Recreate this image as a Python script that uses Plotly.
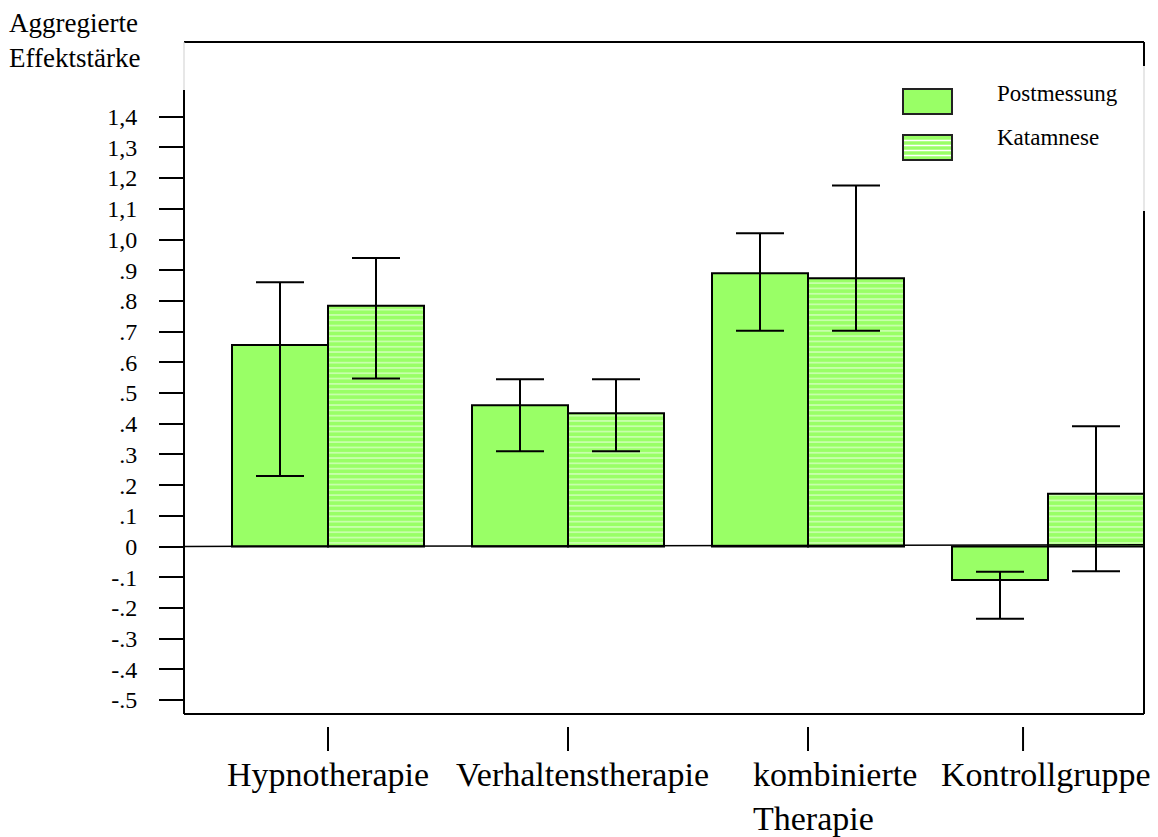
import plotly.graph_objects as go

# ---------------- data ----------------
categories = ["Hypnotherapie", "Verhaltenstherapie", "kombinierte<br>Therapie", "Kontrollgruppe"]
series_names = ["Postmessung", "Katamnese"]

post_values = [0.656, 0.46, 0.89, -0.109]
post_upper = [0.861, 0.545, 1.02, -0.082]
post_lower = [0.23, 0.31, 0.703, -0.235]

kat_values = [0.784, 0.434, 0.874, 0.172]
kat_upper = [0.94, 0.545, 1.176, 0.392]
kat_lower = [0.547, 0.31, 0.703, -0.081]

tick_values = [-0.5, -0.4, -0.3, -0.2, -0.1, 0, 0.1, 0.2, 0.3, 0.4, 0.5, 0.6, 0.7, 0.8, 0.9,
               1.0, 1.1, 1.2, 1.3, 1.4]
tick_labels = ["-.5", "-.4", "-.3", "-.2", "-.1", "0", ".1", ".2", ".3", ".4", ".5", ".6", ".7",
               ".8", ".9", "1,0", "1,1", "1,2", "1,3", "1,4"]

# ---------------- style ----------------
GREEN = "#99FF66"
FONT = "Liberation Serif"
W, H = 1158, 837
L, R, T, B = 184, 14, 42, 123
PW, PH = W - L - R, H - T - B


def px(x):
    return (x - L) / PW


def py(y):
    return (H - B - y) / PH


xs = list(range(len(categories)))

fig = go.Figure()
fig.add_trace(go.Bar(
    name=series_names[0], x=xs, y=post_values,
    marker=dict(color=GREEN, line=dict(color="black", width=2)),
    error_y=dict(type="data", symmetric=False,
                 array=[u - v for u, v in zip(post_upper, post_values)],
                 arrayminus=[v - l for v, l in zip(post_values, post_lower)],
                 color="black", thickness=2, width=24),
    showlegend=False,
))
fig.add_trace(go.Bar(
    name=series_names[1], x=xs, y=kat_values,
    marker=dict(color=GREEN, line=dict(color="black", width=2),
                pattern=dict(shape="-", fillmode="overlay", fgcolor="white",
                             size=5.3, solidity=0.3)),
    error_y=dict(type="data", symmetric=False,
                 array=[u - v for u, v in zip(kat_upper, kat_values)],
                 arrayminus=[v - l for v, l in zip(kat_values, kat_lower)],
                 color="black", thickness=2, width=24),
    showlegend=False,
))

shapes = []
blk = dict(color="black", width=2)
gry = dict(color="#cfcfcf", width=1)


def seg(x0, y0, x1, y1, line):
    shapes.append(dict(type="line", xref="paper", yref="paper",
                       x0=px(x0), y0=py(y0), x1=px(x1), y1=py(y1), line=line))


# frame
seg(184, 42, 1144, 42, blk)
seg(184, 42, 184, 90, gry)
seg(184, 90, 184, 714, blk)
seg(184, 714, 1144, 714, blk)
seg(1144, 42, 1144, 66, blk)
seg(1144, 66, 1144, 211, gry)
seg(1144, 211, 1144, 714, blk)

# zero line (slightly tilted as in the original)
shapes.append(dict(type="line", xref="paper", yref="y", x0=0, x1=1, y0=0, y1=0.006,
                   line=dict(color="black", width=1.5)))

# category tick marks below the frame
for xv in [0, 1, 2, 2.896]:
    shapes.append(dict(type="line", xref="x", yref="paper", x0=xv, x1=xv,
                       y0=py(727), y1=py(751), line=dict(color="black", width=2)))

# legend boxes
shapes.append(dict(type="rect", xref="paper", yref="paper", x0=px(903), x1=px(952),
                   y0=py(114), y1=py(89), fillcolor=GREEN, line=dict(color="#222", width=2)))
shapes.append(dict(type="rect", xref="paper", yref="paper", x0=px(903), x1=px(952),
                   y0=py(160), y1=py(135), fillcolor=GREEN, line=dict(color="#222", width=2)))
for yy in [140.5, 145.5, 150.5, 155.5]:
    seg(904, yy, 951, yy, dict(color="white", width=1.3))

annotations = [
    dict(text="Aggregierte<br>Effektstärke", xref="paper", yref="paper", x=px(7), y=py(6),
         xanchor="left", yanchor="top", align="left", showarrow=False,
         font=dict(family=FONT, size=27, color="black")),
    dict(text=series_names[0], xref="paper", yref="paper", x=px(995), y=py(94),
         xanchor="left", yanchor="middle", showarrow=False,
         font=dict(family=FONT, size=23, color="black")),
    dict(text=series_names[1], xref="paper", yref="paper", x=px(995), y=py(137),
         xanchor="left", yanchor="middle", showarrow=False,
         font=dict(family=FONT, size=23, color="black")),
]

label_x = [0, 1.06, 1.7625, 2.99]
label_anchor = ["center", "center", "left", "center"]
for cat, lx, anc in zip(categories, label_x, label_anchor):
    annotations.append(dict(text=cat, xref="x", yref="paper", x=lx, y=py(754),
                            xanchor=anc, yanchor="top", align="left", showarrow=False,
                            font=dict(family=FONT, size=34, color="black")))

fig.update_layout(
    width=W, height=H, autosize=False,
    margin=dict(l=L, r=R, t=T, b=B, pad=0),
    paper_bgcolor="white", plot_bgcolor="white",
    barmode="group", bargap=0.2, bargroupgap=0,
    shapes=shapes, annotations=annotations,
    font=dict(family=FONT, color="black"),
    xaxis=dict(range=[-0.6, 3.4], showticklabels=False, ticks="", showgrid=False,
               zeroline=False, showline=False, fixedrange=True),
    yaxis=dict(range=[-0.5456, 1.6433], tickvals=tick_values, ticktext=tick_labels,
               ticks="outside", ticklen=24, tickwidth=2, tickcolor="black",
               ticklabelstandoff=17,
               tickfont=dict(family=FONT, size=24, color="black"),
               showgrid=False, zeroline=False, showline=False, fixedrange=True),
)

fig.write_html("out.html", config={"displayModeBar": False},
               post_script="document.body.style.margin='0px';document.body.style.overflow='hidden';")
